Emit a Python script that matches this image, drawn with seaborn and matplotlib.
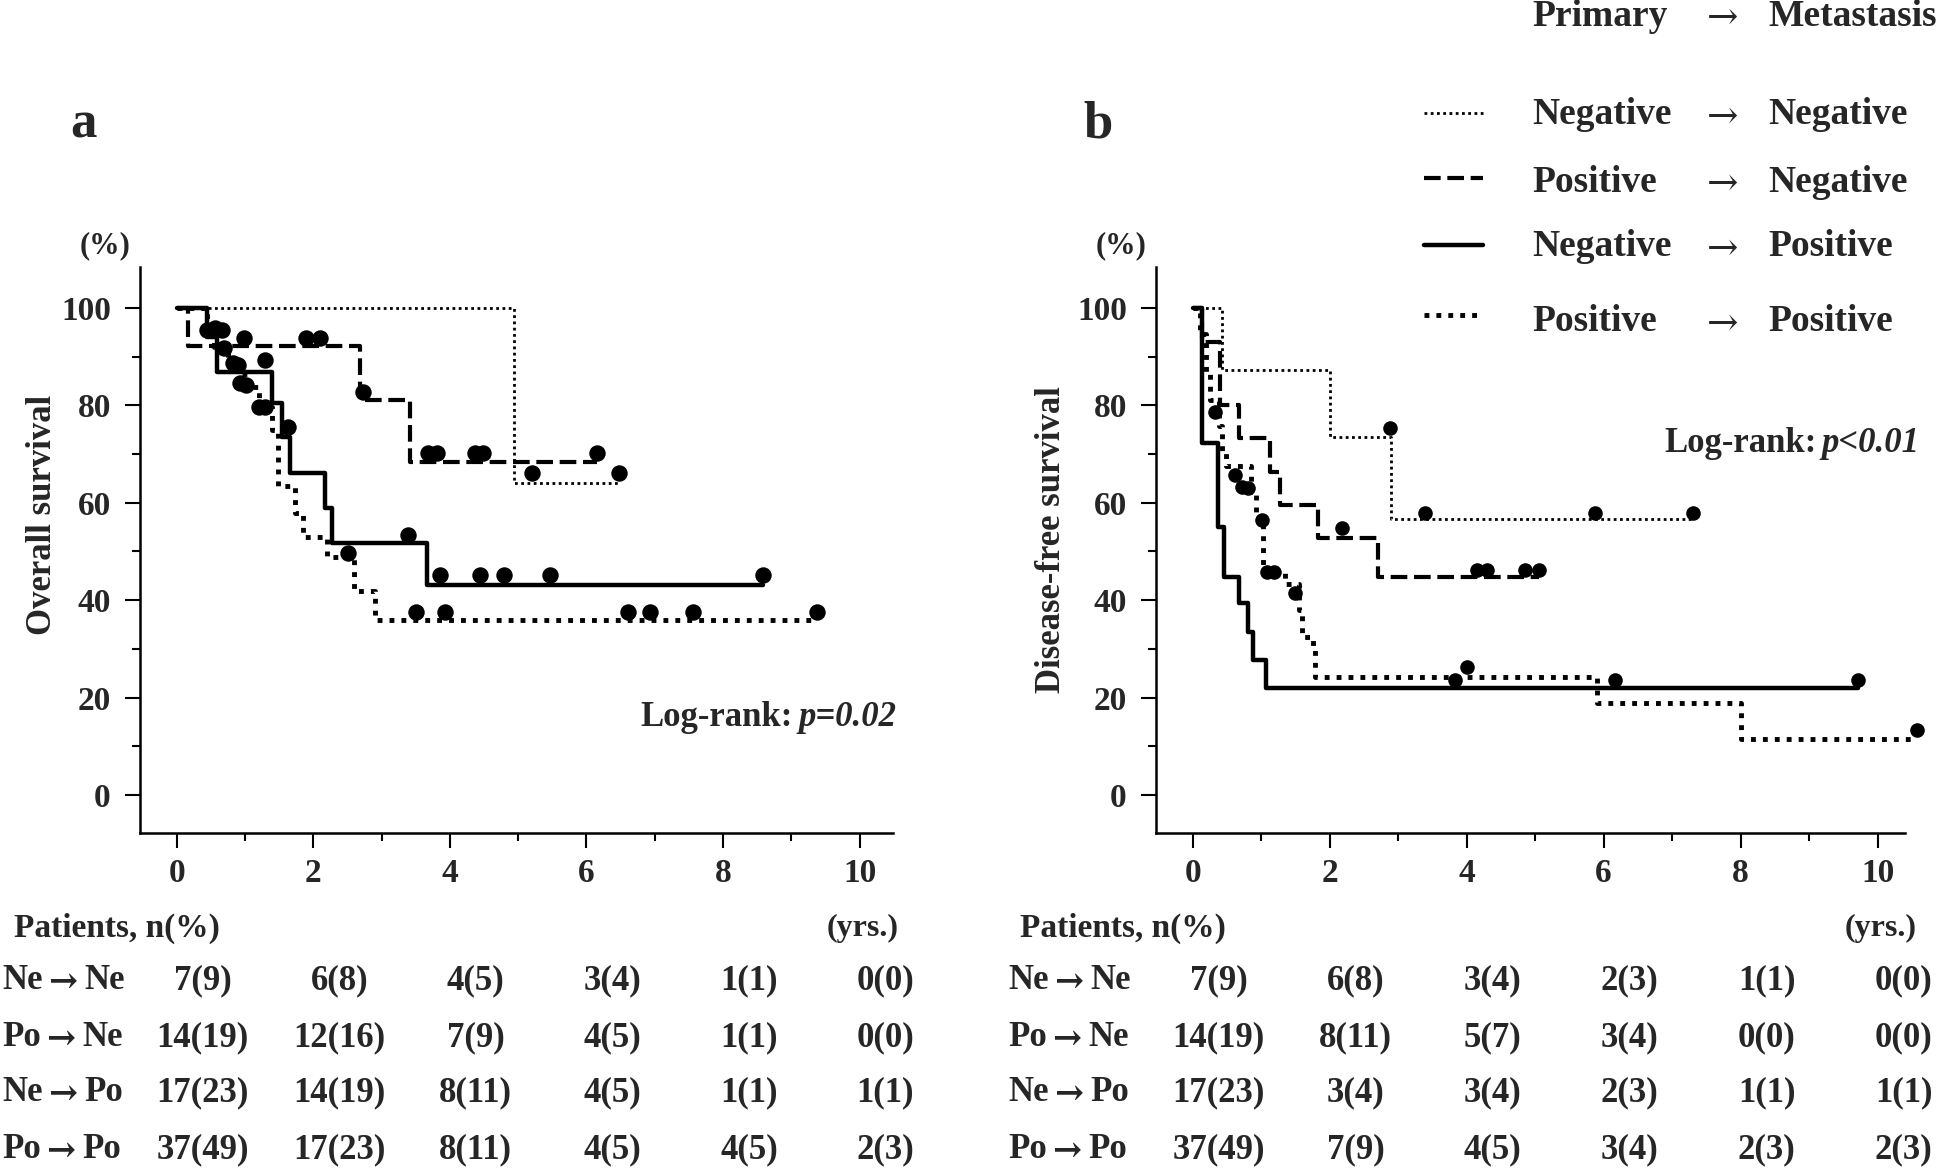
import matplotlib
matplotlib.use("Agg")
import matplotlib.pyplot as plt
import matplotlib.transforms as mtransforms
from matplotlib.lines import Line2D
import seaborn as sns

# ---------------- data ----------------
years = [0, 2, 4, 6, 8, 10]
minor_years = [1, 3, 5, 7, 9]
pct_ticks = [0, 20, 40, 60, 80, 100]
minor_pct = [10, 30, 50, 70, 90]
group_from = ["Ne", "Po", "Ne", "Po"]
group_to = ["Ne", "Ne", "Po", "Po"]
legend_primary = ["Negative", "Positive", "Negative", "Positive"]
legend_meta = ["Negative", "Negative", "Positive", "Positive"]

# (a) overall survival: step curves (yrs, %) and censor marks
os_nene_t = [0, 4.94, 6.47]
os_nene_s = [100, 64.0, 64.0]
os_pone_t = [0, 0.16, 2.68, 3.42, 6.15]
os_pone_s = [100, 92.1, 81.1, 68.4, 68.4]
os_nepo_t = [0, 0.45, 0.585, 1.39, 1.54, 1.66, 2.17, 2.27, 3.66, 8.59]
os_nepo_s = [100, 94.1, 86.9, 80.4, 73.6, 66.2, 58.9, 51.7, 43.1, 43.1]
os_popo_t = [0, 0.45, 0.55, 0.75, 0.95, 1.05, 1.20, 1.39, 1.49, 1.73, 1.85, 2.20, 2.59, 2.90, 9.37]
os_popo_s = [100, 94.6, 91.9, 89.2, 86.5, 83.8, 79.7, 74.9, 63.5, 57.8, 53.0, 48.9, 41.8, 35.9, 35.9]

os_nene_ct = [5.20, 6.48]
os_nene_cs = [66.1, 66.1]
os_pone_ct = [0.98, 1.90, 2.10, 2.73, 3.68, 3.81, 4.37, 4.49, 6.15]
os_pone_cs = [93.8, 93.8, 93.8, 82.8, 70.2, 70.2, 70.2, 70.2, 70.2]
os_nepo_ct = [1.29, 1.63, 3.39, 3.85, 4.44, 4.79, 5.47, 8.59]
os_nepo_cs = [89.3, 75.6, 53.4, 45.2, 45.2, 45.2, 45.2, 45.2]
os_popo_ct = [0.44, 0.56, 0.66, 0.69, 0.83, 0.90, 0.93, 1.02, 1.20, 1.29, 2.51, 3.51, 3.93, 6.61, 6.93, 7.56, 9.37]
os_popo_cs = [95.5, 95.8, 95.5, 91.7, 88.6, 88.3, 84.5, 84.2, 79.7, 79.7, 49.6, 37.6, 37.6, 37.6, 37.6, 37.6, 37.6]

# (b) disease-free survival
dfs_nene_t = [0, 0.42, 2.00, 2.90, 7.31]
dfs_nene_s = [100, 87.3, 73.6, 56.6, 56.6]
dfs_pone_t = [0, 0.13, 0.40, 0.67, 1.13, 1.27, 1.83, 2.71, 5.05]
dfs_pone_s = [100, 92.9, 80.0, 73.2, 66.4, 59.5, 52.7, 44.8, 44.8]
dfs_nepo_t = [0, 0.14, 0.375, 0.46, 0.67, 0.80, 0.88, 1.07, 9.72]
dfs_nepo_s = [100, 72.2, 55.1, 44.8, 39.4, 33.5, 27.7, 21.9, 21.9]
dfs_popo_t = [0, 0.10, 0.20, 0.25, 0.38, 0.42, 0.48, 0.85, 0.92, 1.03, 1.35, 1.55, 1.60, 1.75, 1.79, 5.90, 8.00, 10.55]
dfs_popo_s = [100, 94.6, 86.5, 81.1, 75.7, 70.3, 67.6, 62.2, 56.8, 46.0, 43.3, 37.9, 32.4, 29.7, 24.3, 18.9, 11.6, 11.6]

dfs_nene_ct = [2.88, 3.39, 5.87, 7.31]
dfs_nene_cs = [75.3, 57.8, 57.8, 57.8]
dfs_pone_ct = [2.18, 4.15, 4.29, 4.85, 5.05]
dfs_pone_cs = [54.8, 46.2, 46.2, 46.2, 46.2]
dfs_nepo_ct = [3.83, 6.17, 9.72]
dfs_nepo_cs = [23.6, 23.6, 23.6]
dfs_popo_ct = [0.33, 0.62, 0.72, 0.81, 1.01, 1.08, 1.18, 1.49, 4.00, 10.57]
dfs_popo_cs = [78.7, 65.7, 63.3, 63.0, 56.5, 45.7, 45.7, 41.4, 26.3, 13.4]

# patients at risk, n(%)
os_risk_nene = ["7(9)", "6(8)", "4(5)", "3(4)", "1(1)", "0(0)"]
os_risk_pone = ["14(19)", "12(16)", "7(9)", "4(5)", "1(1)", "0(0)"]
os_risk_nepo = ["17(23)", "14(19)", "8(11)", "4(5)", "1(1)", "1(1)"]
os_risk_popo = ["37(49)", "17(23)", "8(11)", "4(5)", "4(5)", "2(3)"]
dfs_risk_nene = ["7(9)", "6(8)", "3(4)", "2(3)", "1(1)", "0(0)"]
dfs_risk_pone = ["14(19)", "8(11)", "5(7)", "3(4)", "0(0)", "0(0)"]
dfs_risk_nepo = ["17(23)", "3(4)", "3(4)", "2(3)", "1(1)", "1(1)"]
dfs_risk_popo = ["37(49)", "7(9)", "4(5)", "3(4)", "2(3)", "2(3)"]

# line styles: Ne->Ne thin dots, Po->Ne dashes, Ne->Po solid, Po->Po thick dots
styles = [
    dict(lw=2.0, ls=(0, (1, 1.25))),
    dict(lw=3.0, ls=(0, (4, 1.6))),
    dict(lw=3.2, ls="-"),
    dict(lw=3.5, ls=(0, (1, 1.45))),
]

sns.set_theme(style="ticks")
plt.rcParams["font.family"] = ["Liberation Serif", "DejaVu Serif"]
plt.rcParams["font.weight"] = "bold"
plt.rcParams["axes.labelweight"] = "bold"
ARROW_FONT = ["DejaVu Serif"]

W, H = 1946, 1169
fig = plt.figure(figsize=(W / 100, H / 100), dpi=100)
ax_a = fig.add_axes([140 / W, 1 - 833 / H, 753 / W, 566 / H])
ax_b = fig.add_axes([1156 / W, 1 - 833 / H, 749 / W, 566 / H])


def draw_panel(ax, curves, censors, msize, xmax):
    for (t, s), st in zip(curves, styles):
        sns.lineplot(x=t, y=s, ax=ax, color="black", drawstyle="steps-post",
                     estimator=None, sort=False, linewidth=st["lw"],
                     linestyle=st["ls"], clip_on=False)
    for t, s in censors:
        sns.scatterplot(x=t, y=s, ax=ax, color="black", s=msize, linewidth=0,
                        zorder=5, clip_on=False)
    ax.set_xlim(-0.537, xmax)
    ax.set_ylim(-7.8, 108.4)
    ax.set_xticks(years)
    ax.set_xticks(minor_years, minor=True)
    ax.set_yticks(pct_ticks)
    ax.set_yticks(minor_pct, minor=True)
    ax.tick_params(axis="both", which="major", direction="out", length=11,
                   width=1.5, labelsize=24, color="black", pad=7)
    ax.tick_params(axis="y", which="major", pad=10)
    ax.tick_params(axis="both", which="minor", direction="out", length=6,
                   width=1.5, color="black")
    sns.despine(ax=ax)
    for side in ["left", "bottom"]:
        ax.spines[side].set_linewidth(1.8)
        ax.spines[side].set_color("black")
    ax.set_xlabel("")
    ax.text(-0.046, 1.038, "(%)", transform=ax.transAxes, ha="center",
            va="center", fontsize=22)


def draw_table(ax, risk, name_x, unit_x):
    col = mtransforms.blended_transform_factory(ax.transData, ax.transAxes)
    left = mtransforms.blended_transform_factory(fig.transFigure, ax.transAxes)
    rows_y = [-0.261, -0.362, -0.459, -0.560]
    ax.text(name_x + 0.006, -0.168, "Patients, n(%)", transform=left,
            ha="left", va="center", fontsize=24)
    ax.text(unit_x, -0.168, "(yrs.)", transform=col, ha="center",
            va="center", fontsize=23)
    for a, b, vals, ry in zip(group_from, group_to, risk, rows_y):
        t1 = ax.text(name_x, ry, a, transform=left, ha="left", va="center",
                     fontsize=25)
        t2 = ax.annotate("\u2192", xy=(1, 0.5), xycoords=t1, xytext=(4, -1),
                         textcoords="offset points", ha="left", va="center",
                         fontsize=25, family=ARROW_FONT, weight="bold")
        ax.annotate(b, xy=(1, 0.5), xycoords=t2, xytext=(5, 1),
                    textcoords="offset points", ha="left", va="center",
                    fontsize=25)
        for yr, v in zip(years, vals):
            ax.text(yr + 0.38, ry, v, transform=col, ha="center",
                    va="center", fontsize=25)


def draw_logrank(ax, x, y, pval):
    p = ax.text(x, y, pval, transform=ax.transAxes, ha="right", va="center",
                fontsize=25, style="italic")
    ax.annotate("Log-rank:", xy=(0, 0.5), xycoords=p, xytext=(-4, 0),
                textcoords="offset points", ha="right", va="center",
                fontsize=25)


draw_panel(ax_a,
           [(os_nene_t, os_nene_s), (os_pone_t, os_pone_s),
            (os_nepo_t, os_nepo_s), (os_popo_t, os_popo_s)],
           [(os_nene_ct, os_nene_cs), (os_pone_ct, os_pone_cs),
            (os_nepo_ct, os_nepo_cs), (os_popo_ct, os_popo_cs)],
           140, 10.49)
draw_panel(ax_b,
           [(dfs_nene_t, dfs_nene_s), (dfs_pone_t, dfs_pone_s),
            (dfs_nepo_t, dfs_nepo_s), (dfs_popo_t, dfs_popo_s)],
           [(dfs_nene_ct, dfs_nene_cs), (dfs_pone_ct, dfs_pone_cs),
            (dfs_nepo_ct, dfs_nepo_cs), (dfs_popo_ct, dfs_popo_cs)],
           110, 10.40)

ax_a.set_ylabel("Overall survival", fontsize=25, va="center")
ax_a.yaxis.set_label_coords(-0.129, 0.562)
ax_b.set_ylabel("Disease-free survival", fontsize=25, va="center")
ax_b.yaxis.set_label_coords(-0.139, 0.518)

draw_logrank(ax_a, 1.004, 0.204, "p=0.02")
draw_logrank(ax_b, 1.02, 0.689, "p<0.01")

draw_table(ax_a, [os_risk_nene, os_risk_pone, os_risk_nepo, os_risk_popo],
           2 / W, 10.05)
draw_table(ax_b, [dfs_risk_nene, dfs_risk_pone, dfs_risk_nepo, dfs_risk_popo],
           1008 / W, 10.05)

fig.text(83 / W, 1 - 125 / H, "a", ha="center", va="center", fontsize=38)
fig.text(1098 / W, 1 - 125 / H, "b", ha="center", va="center", fontsize=38)

# legend (top right)
col1, arrow_x, col3 = 1532 / W, 1723 / W, 1768 / W
fig.text(col1, 1 - 17 / H, "Primary", ha="left", va="center", fontsize=27)
fig.text(arrow_x, 1 - 19 / H, "\u2192", ha="center", va="center",
         fontsize=27, weight="normal", family=ARROW_FONT)
fig.text(col3, 1 - 17 / H, "Metastasis", ha="left", va="center", fontsize=27)
leg_rows = [115, 182, 247, 322]
leg_lines = [113, 178, 245, 315]
for prim, meta, ry, ly, st in zip(legend_primary, legend_meta, leg_rows,
                                  leg_lines, styles):
    fig.add_artist(Line2D([1424 / W, 1483 / W], [1 - ly / H, 1 - ly / H],
                          transform=fig.transFigure, color="black",
                          lw=st["lw"], linestyle=st["ls"]))
    fig.text(col1, 1 - ry / H, prim, ha="left", va="center", fontsize=27)
    fig.text(arrow_x, 1 - (ry + 3) / H, "\u2192", ha="center", va="center",
             fontsize=27, weight="normal", family=ARROW_FONT)
    fig.text(col3, 1 - ry / H, meta, ha="left", va="center", fontsize=27)

fig.savefig("out.png", dpi=100)
